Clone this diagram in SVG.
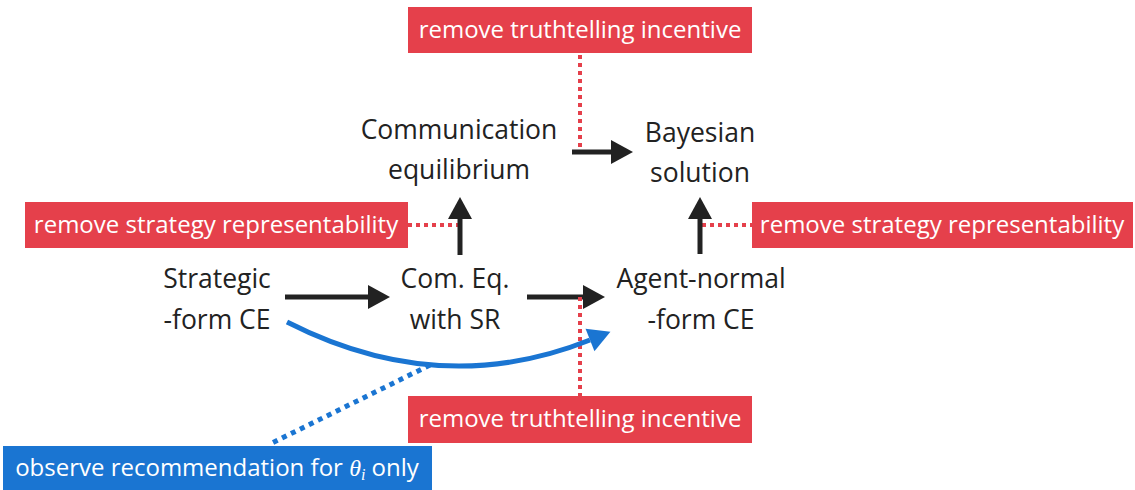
<svg xmlns="http://www.w3.org/2000/svg" width="1135" height="490" viewBox="0 0 1135 490">
<style>
.lbl{font-family:"Open Sans","Liberation Sans",sans-serif;font-size:26.5px;fill:#222;text-anchor:middle}
.btxt{font-family:"Open Sans","Liberation Sans",sans-serif;font-size:24px;fill:#fff;text-anchor:middle}
.red{fill:#e5404b}
.blue{fill:#1a75d2}
.arr{stroke:#222;stroke-width:5;fill:none}
.rdot{stroke:#e5404b;stroke-width:4;stroke-dasharray:4 4;fill:none}
.bdot{stroke:#1a75d2;stroke-width:5;stroke-dasharray:5 5;fill:none}
</style>
<defs>
<marker id="ah" markerUnits="userSpaceOnUse" markerWidth="24" markerHeight="26" refX="0" refY="12" orient="auto" overflow="visible">
<path d="M0,0 L22,12 L0,24 z" fill="#222"/>
</marker>
<marker id="bh" markerUnits="userSpaceOnUse" markerWidth="24" markerHeight="26" refX="0" refY="12" orient="auto" overflow="visible">
<path d="M0,0 L22,12 L0,24 z" fill="#1a75d2"/>
</marker>
</defs>
<g id="connectors">
<line class="rdot" x1="580" y1="55" x2="580" y2="152"/>
<line class="arr" x1="572" y1="152" x2="611" y2="152" marker-end="url(#ah)"/>
<line class="rdot" x1="408" y1="225" x2="458" y2="225"/>
<line class="arr" x1="460" y1="255" x2="460" y2="219" marker-end="url(#ah)"/>
<line class="rdot" x1="702" y1="225" x2="752" y2="225"/>
<line class="arr" x1="700" y1="254" x2="700" y2="219" marker-end="url(#ah)"/>
<line class="arr" x1="285" y1="297" x2="368" y2="297" marker-end="url(#ah)"/>
<line class="arr" x1="527" y1="297" x2="583" y2="297" marker-end="url(#ah)"/>
<line class="rdot" x1="580" y1="297" x2="580" y2="396"/>
<path d="M287,322 Q440,400 590,340" stroke="#1a75d2" stroke-width="5" fill="none" marker-end="url(#bh)"/>
<line class="bdot" x1="430" y1="365" x2="272" y2="443"/>
</g>
<g id="n-top-red"><rect class="red" x="408" y="7" width="344" height="46"/><text class="btxt" x="580" y="38">remove truthtelling incentive</text></g>
<g id="n-comm"><text class="lbl" x="459" y="139">Communication</text><text class="lbl" x="459" y="179">equilibrium</text></g>
<g id="n-bayes"><text class="lbl" x="700" y="142">Bayesian</text><text class="lbl" x="700" y="182">solution</text></g>
<g id="n-left-red"><rect class="red" x="25" y="202" width="383" height="46"/><text class="btxt" x="216" y="233">remove strategy representability</text></g>
<g id="n-right-red"><rect class="red" x="752" y="202" width="381" height="46"/><text class="btxt" x="942" y="233">remove strategy representability</text></g>
<g id="n-strategic"><text class="lbl" x="217" y="288">Strategic</text><text class="lbl" x="217" y="329">-form CE</text></g>
<g id="n-comeq"><text class="lbl" x="455" y="288">Com. Eq.</text><text class="lbl" x="455" y="329">with SR</text></g>
<g id="n-agent"><text class="lbl" x="701" y="288">Agent-normal</text><text class="lbl" x="701" y="329">-form CE</text></g>
<g id="n-bottom-red"><rect class="red" x="408" y="396" width="344" height="47"/><text class="btxt" x="580" y="427">remove truthtelling incentive</text></g>
<g id="n-blue"><rect class="blue" x="3" y="446" width="429" height="44"/><text class="btxt" x="217" y="476">observe recommendation for <tspan font-family="'Liberation Serif',serif" font-style="italic">θ</tspan><tspan font-family="'Liberation Serif',serif" font-style="italic" font-size="16" dy="4">i</tspan><tspan dy="-4"> only</tspan></text></g>
</svg>
